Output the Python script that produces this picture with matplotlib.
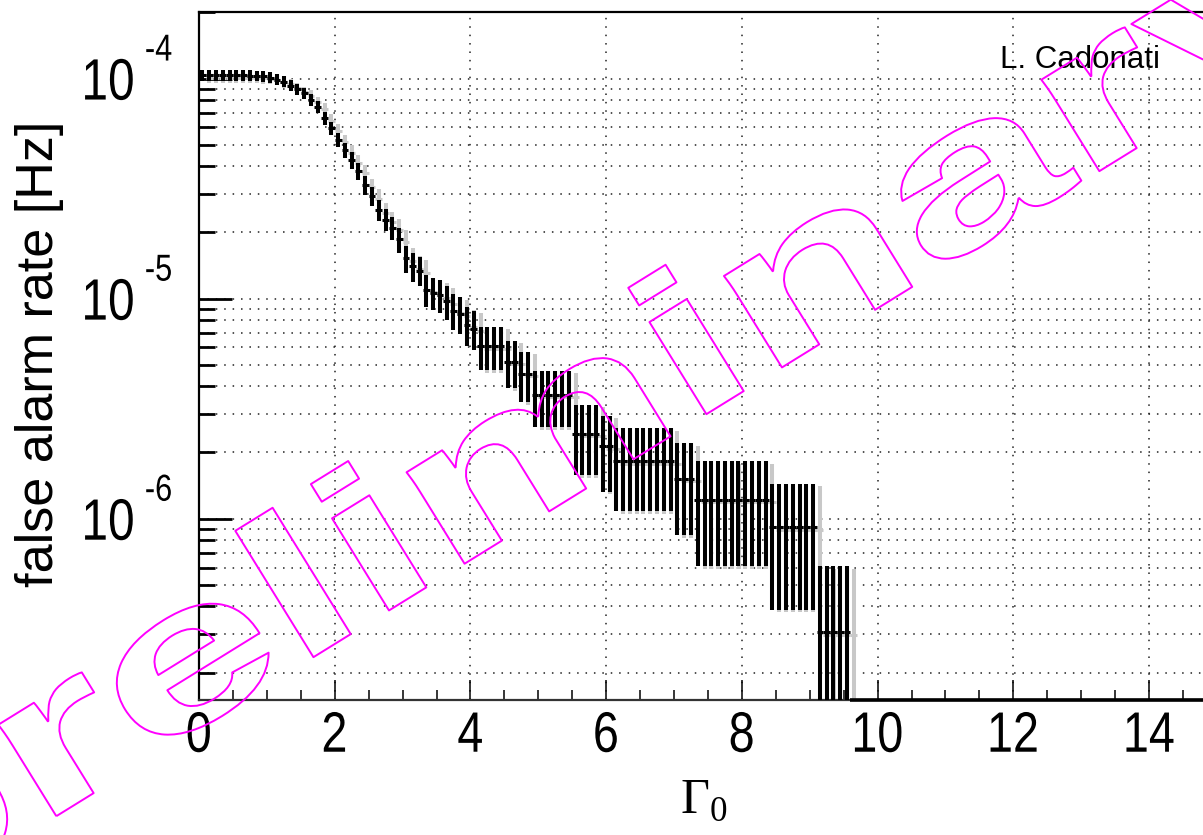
import numpy as np
import matplotlib
matplotlib.use("Agg")
import matplotlib.pyplot as plt
import matplotlib.transforms as mtransforms
from matplotlib.textpath import TextToPath
from matplotlib.font_manager import FontProperties, fontManager
from matplotlib.patheffects import AbstractPathEffect
from matplotlib.ticker import FixedLocator, FixedFormatter, NullFormatter

# ---------------- data ----------------
# number of background events above threshold, one value per 0.1-wide bin of Gamma_0
counts = [340, 340, 340, 340, 340, 340, 340, 339, 338, 336,
          332, 325, 318, 305, 293, 281, 263, 245, 217, 195,
          173, 155, 140, 125, 108, 96, 83, 75, 69, 61,
          50, 46, 44, 36, 35, 34, 32, 29, 28, 25,
          24, 20, 20, 20, 20, 17, 17, 15, 15, 12,
          12, 12, 12, 12, 12, 8, 8, 8, 8, 7,
          7, 6, 6, 6, 6, 6, 6, 6, 6, 6,
          5, 5, 5, 4, 4, 4, 4, 4, 4, 4,
          4, 4, 4, 4, 3, 3, 3, 3, 3, 3,
          3, 1, 1, 1, 1, 1]
livetime_s = 3.285e6
bin_width = 0.1

xtick_values = [0, 2, 4, 6, 8, 10, 12, 14]
xtick_labels = ["0", "2", "4", "6", "8", "10", "12", "14"]
ytick_values = [1e-6, 1e-5, 1e-4]
ytick_base = ["10", "10", "10"]
ytick_exponents = ["-6", "-5", "-4"]
ylabel_text = "false alarm rate [Hz]"
xlabel_text = r"$\mathbf{\Gamma}_{\mathbf{0}}$"
author_text = "L. Cadonati"
watermark_text = "preliminary"

# ---------------- style ----------------
plt.rcParams["font.family"] = ["Liberation Sans", "DejaVu Sans"]
plt.rcParams["mathtext.fontset"] = "custom"
plt.rcParams["mathtext.rm"] = "Liberation Sans"
plt.rcParams["mathtext.bf"] = "Liberation Serif"
plt.rcParams["mathtext.it"] = "Liberation Sans:italic"

font_names = {f.name for f in fontManager.ttflist}
HAVE_NARROW = "Liberation Sans Narrow" in font_names
tick_family = ["Liberation Sans Narrow", "Liberation Sans"] if HAVE_NARROW else ["Liberation Sans"]


class HScale(AbstractPathEffect):
    """Scale glyphs along the text baseline; optionally draw only an outline."""

    def __init__(self, sx, stroke_color=None, stroke_lw=1.0):
        super().__init__()
        self.sx = sx
        self.sc = stroke_color
        self.lw = stroke_lw

    def draw_path(self, renderer, gc, tpath, affine, rgbFace=None):
        v = tpath.vertices
        cx = 0.5 * (v[:, 0].min() + v[:, 0].max()) if len(v) else 0.0
        pre = mtransforms.Affine2D().translate(-cx, 0).scale(self.sx, 1).translate(cx, 0)
        aff = mtransforms.Affine2D(affine.get_matrix() @ pre.get_matrix())
        if self.sc is None:
            renderer.draw_path(gc, tpath, aff, rgbFace)
        else:
            gc0 = renderer.new_gc()
            gc0.copy_properties(gc)
            gc0.set_foreground(self.sc)
            gc0.set_linewidth(self.lw)
            renderer.draw_path(gc0, tpath, aff, None)
            gc0.restore()


W, H, DPI = 1203, 835, 100
fig = plt.figure(figsize=(W / DPI, H / DPI), dpi=DPI)
ax = fig.add_axes([199 / W, 1 - 700 / H, 1 - 199 / W, (700 - 12.3) / H])

xmin, xmax = 0.0, (W - 199) / 67.86
ymin, ymax = 1.5e-7, 2.0e-4
ax.set_yscale("log")
ax.set_xlim(xmin, xmax)
ax.set_ylim(ymin, ymax)

counts_arr = np.array(counts, dtype=float)
rate = counts_arr / livetime_s
err = np.sqrt(counts_arr) / livetime_s
lo = np.maximum(rate - err, ymin * 0.3)
hi = rate + err
n = len(counts_arr)
centers = (np.arange(n) + 0.5) * bin_width
left = centers - bin_width / 2
right = centers + bin_width / 2

# grey shadow (shifted copy)
shadow = mtransforms.offset_copy(ax.transData, fig=fig, x=6.8, y=-2.5, units="dots")
ax.vlines(centers, lo, hi, colors="#c8c8c8", lw=2.9, transform=shadow, zorder=2)
ax.hlines(rate, left, right, colors="#c8c8c8", lw=2.2, transform=shadow, zorder=2)
# black error bars
ax.vlines(centers, lo, hi, colors="black", lw=2.9, zorder=3)
ax.hlines(rate, left, right, colors="black", lw=2.2, zorder=3)
# empty bins drawn along the bottom
ax.plot([right[-1], xmax], [ymin, ymin], color="black", lw=2.6, zorder=4, clip_on=False,
        solid_capstyle="butt")

# grid
dot = (0, (1, 4.5))
ax.grid(which="major", axis="x", color="#222222", lw=1.1, linestyle=dot)
ax.grid(which="both", axis="y", color="#222222", lw=1.1, linestyle=dot)

# ticks
ax.xaxis.set_major_locator(FixedLocator(xtick_values))
ax.xaxis.set_major_formatter(FixedFormatter(xtick_labels))
ax.xaxis.set_minor_locator(FixedLocator(np.arange(0, 15.01, 0.5)))
ax.yaxis.set_major_locator(FixedLocator(ytick_values))
ax.yaxis.set_major_formatter(FixedFormatter(ytick_base))
ymin_ticks = [m * 10.0 ** e for e in range(-7, -3) for m in range(2, 10)]
ax.yaxis.set_minor_locator(FixedLocator(ymin_ticks))
ax.yaxis.set_minor_formatter(NullFormatter())

ax.tick_params(axis="x", which="major", direction="in", length=14.4, width=1.1,
               labelsize=41, pad=7, top=False)
ax.tick_params(axis="x", which="minor", direction="in", length=7.2, width=1.1, top=False)
ax.tick_params(axis="y", which="major", direction="in", length=23.8, width=2.0,
               labelsize=42, pad=42, right=False)
ax.tick_params(axis="y", which="minor", direction="in", length=11.5, width=2.0, right=False)

for t in ax.get_xticklabels() + ax.get_yticklabels():
    t.set_family(tick_family)
    if not HAVE_NARROW:
        t.set_path_effects([HScale(0.82)])

for lab, val in zip(ytick_exponents, ytick_values):
    e = ax.annotate(lab, xy=(0, val), xycoords=("axes fraction", "data"),
                    xytext=(-57, 28), textcoords="offset pixels",
                    ha="left", va="center", fontsize=27, family=tick_family)
    if not HAVE_NARROW:
        e.set_path_effects([HScale(0.82)])

for s in ["left", "top", "bottom"]:
    ax.spines[s].set_linewidth(1.6)
ax.spines["bottom"].set_color("#333333")
ax.spines["right"].set_visible(False)

# labels
fig.text(40 / W, 1 - 354 / H, ylabel_text, rotation=90, ha="center", va="center", fontsize=37.5)
fig.text(704 / W, 1 - 813 / H, xlabel_text, ha="center", va="baseline", fontsize=36)
fig.text(1000 / W, 1 - 68 / H, author_text, ha="left", va="baseline", fontsize=22.5)

# watermark: magenta outlined, horizontally stretched word along a tilted line
fp = FontProperties(family="Liberation Sans", weight="bold")
em = 205.0
t2p = TextToPath()
ps = fp.get_size_in_points()
advs = np.array([t2p.get_text_width_height_descent(ch, fp, ismath=False)[0] * em / ps
                 for ch in watermark_text])
cum = np.concatenate([[0], np.cumsum(advs)[:-1]])
mid = cum + advs / 2
total = advs.sum()
p1 = np.array([62.0, H - 750.0])    # centre of the first "r"
p2 = np.array([1105.0, H - 105.0])  # centre of the second "r"
d = p2 - p1
dist = np.hypot(*d)
theta = np.degrees(np.arctan2(d[1], d[0]))
u = d / dist
nrm = np.array([-u[1], u[0]])
scale_adv = dist / (mid[9] - mid[1])
xh = 0.52 * em
anchor = p1 + (total / 2 - mid[1]) * scale_adv * u - (xh / 2) * nrm
fig.text(anchor[0], anchor[1], watermark_text, transform=mtransforms.IdentityTransform(),
         fontsize=em * 72 / DPI, fontweight="bold", family="Liberation Sans",
         rotation=theta, rotation_mode="anchor", ha="center", va="baseline",
         color="#ff00ff", zorder=20,
         path_effects=[HScale(scale_adv, "#ff00ff", 1.4)])

fig.savefig("out.png", dpi=DPI)
